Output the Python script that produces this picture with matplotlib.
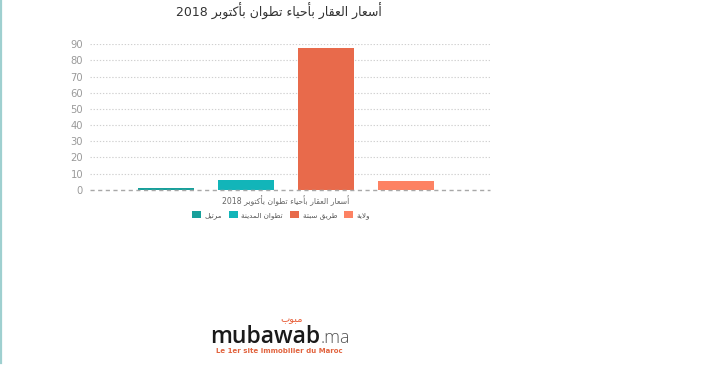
import matplotlib
matplotlib.use("Agg")
import matplotlib.pyplot as plt
from matplotlib.patches import Patch
from matplotlib.lines import Line2D

# ---------------- data ----------------
title = "أسعار العقار بأحياء تطوان بأكتوبر 2018"
category = "أسعار العقار بأحياء تطوان بأكتوبر 2018"
series = ["مرتيل", "تطوان المدينة", "طريق سبتة", "ولاية"]
values = [1.0, 6.0, 87.8, 5.5]
colors = ["#17a09b", "#12b5b9", "#e86a4b", "#fd8263"]
yticks = [0, 10, 20, 30, 40, 50, 60, 70, 80, 90]

# ---------------- minimal Arabic shaping ----------------
DUAL = {
    '\u0628': 0xFE8F, '\u062A': 0xFE95, '\u062B': 0xFE99, '\u062C': 0xFE9D,
    '\u062D': 0xFEA1, '\u062E': 0xFEA5, '\u0633': 0xFEB1, '\u0634': 0xFEB5,
    '\u0635': 0xFEB9, '\u0636': 0xFEBD, '\u0637': 0xFEC1, '\u0638': 0xFEC5,
    '\u0639': 0xFEC9, '\u063A': 0xFECD, '\u0641': 0xFED1, '\u0642': 0xFED5,
    '\u0643': 0xFED9, '\u0644': 0xFEDD, '\u0645': 0xFEE1, '\u0646': 0xFEE5,
    '\u0647': 0xFEE9, '\u064A': 0xFEF1, '\u0626': 0xFE89,
}
RIGHT = {
    '\u0622': 0xFE81, '\u0623': 0xFE83, '\u0624': 0xFE85, '\u0625': 0xFE87,
    '\u0627': 0xFE8D, '\u0629': 0xFE93, '\u062F': 0xFEA9, '\u0630': 0xFEAB,
    '\u0631': 0xFEAD, '\u0632': 0xFEAF, '\u0648': 0xFEED, '\u0649': 0xFEEF,
}
NONJOIN = {'\u0621': 0xFE80}
LAMALEF = {'\u0627': 0xFEFB, '\u0623': 0xFEF7, '\u0625': 0xFEF9, '\u0622': 0xFEF5}


def is_arabic(c):
    return c in DUAL or c in RIGHT or c in NONJOIN


def shape_word(w):
    toks = []
    i = 0
    while i < len(w):
        c = w[i]
        if c == '\u0644' and i + 1 < len(w) and w[i + 1] in LAMALEF:
            toks.append(('LA', w[i + 1]))
            i += 2
        else:
            toks.append(c)
            i += 1

    def joins_left(t):
        return isinstance(t, str) and t in DUAL

    def joins_right(t):
        return isinstance(t, tuple) or (isinstance(t, str) and (t in DUAL or t in RIGHT))

    out = []
    for k, t in enumerate(toks):
        prev = toks[k - 1] if k > 0 else None
        nxt = toks[k + 1] if k + 1 < len(toks) else None
        jp = prev is not None and joins_left(prev)
        if isinstance(t, tuple):
            out.append(chr(LAMALEF[t[1]] + (1 if jp else 0)))
        elif t in DUAL:
            jn = nxt is not None and joins_right(nxt)
            if jp and jn:
                off = 3
            elif jn:
                off = 2
            elif jp:
                off = 1
            else:
                off = 0
            out.append(chr(DUAL[t] + off))
        elif t in RIGHT:
            out.append(chr(RIGHT[t] + (1 if jp else 0)))
        elif t in NONJOIN:
            out.append(chr(NONJOIN[t]))
        else:
            out.append(t)
    return "".join(reversed(out))


def ar(text):
    vis = []
    for w in text.split(" "):
        vis.append(shape_word(w) if any(is_arabic(c) for c in w) else w)
    return " ".join(reversed(vis))


# ---------------- figure ----------------
plt.rcParams['font.family'] = ['DejaVu Sans']
W, H = 710, 375
fig = plt.figure(figsize=(W / 100, H / 100), dpi=100)
fig.patch.set_facecolor("white")

ax = fig.add_axes([90 / W, (H - 189.7) / H, 400 / W, (189.7 - 44.3) / H])
ax.set_facecolor("none")

bw = 0.14
step = 0.2
n = len(series)
for i, (s, v, c) in enumerate(zip(series, values, colors)):
    ax.bar(0 + (i - (n - 1) / 2) * step, v, width=bw, color=c, zorder=3)

ax.set_xlim(-0.49, 0.51)
ax.set_ylim(0, 90)
ax.set_yticks(yticks)
ax.set_yticklabels([str(t) for t in yticks])
ax.set_xticks([0])
ax.set_xticklabels([ar(category)])
ax.tick_params(axis="y", length=0, pad=5, labelsize=7.2, labelcolor="#9a9a9a")
ax.tick_params(axis="x", length=0, pad=4, labelsize=5.6, labelcolor="#666666")
for sp in ax.spines.values():
    sp.set_visible(False)

for t in yticks[1:]:
    ax.axhline(t, color="#d0d0d0", lw=0.8, ls=(0, (1.2, 1.6)), zorder=1)
ax.axhline(0, color="#a8a8a8", lw=1.0, ls=(0, (3, 2.5)), zorder=4, clip_on=False)

# title
fig.text(279 / W, 1 - 11 / H, ar(title), ha="center", va="center",
         fontsize=9.0, color="#333333")

# legend
handles = [Patch(facecolor=c, edgecolor="none") for c in colors]
leg = fig.legend(handles, [ar(s) for s in series], loc="center",
                 bbox_to_anchor=(281 / W, 1 - 215 / H), ncol=4, frameon=False,
                 fontsize=5.2, handlelength=1.2, handleheight=1.2,
                 handletextpad=0.5, columnspacing=1.0, labelcolor="#555555")

# left border line
fig.add_artist(Line2D([1.5 / W, 1.5 / W], [1 - 363 / H, 1.0], color="#9fd0d0",
                      lw=1.6, transform=fig.transFigure))

# logo
t1 = fig.text(210 / W, 1 - 343 / H, "mubawab", ha="left", va="baseline",
              fontsize=16.5, color="#1a1a1a", family="Open Sans", fontweight="semibold")
fig.canvas.draw()
bb = t1.get_window_extent(renderer=fig.canvas.get_renderer())
fig.text(bb.x1 / W, 1 - 343 / H, ".ma", ha="left", va="baseline",
         fontsize=13, color="#555555", family="Open Sans", fontweight="light")
fig.text(292 / W, 1 - 319 / H, ar("مبوب"), ha="center", va="center",
         fontsize=7, color="#e8603a")
fig.text(279 / W, 1 - 351 / H, "Le 1er site immobilier du Maroc", ha="center",
         va="center", fontsize=5.0, color="#e2643f", fontweight="bold")

fig.savefig("out.png", dpi=100, facecolor="white")
